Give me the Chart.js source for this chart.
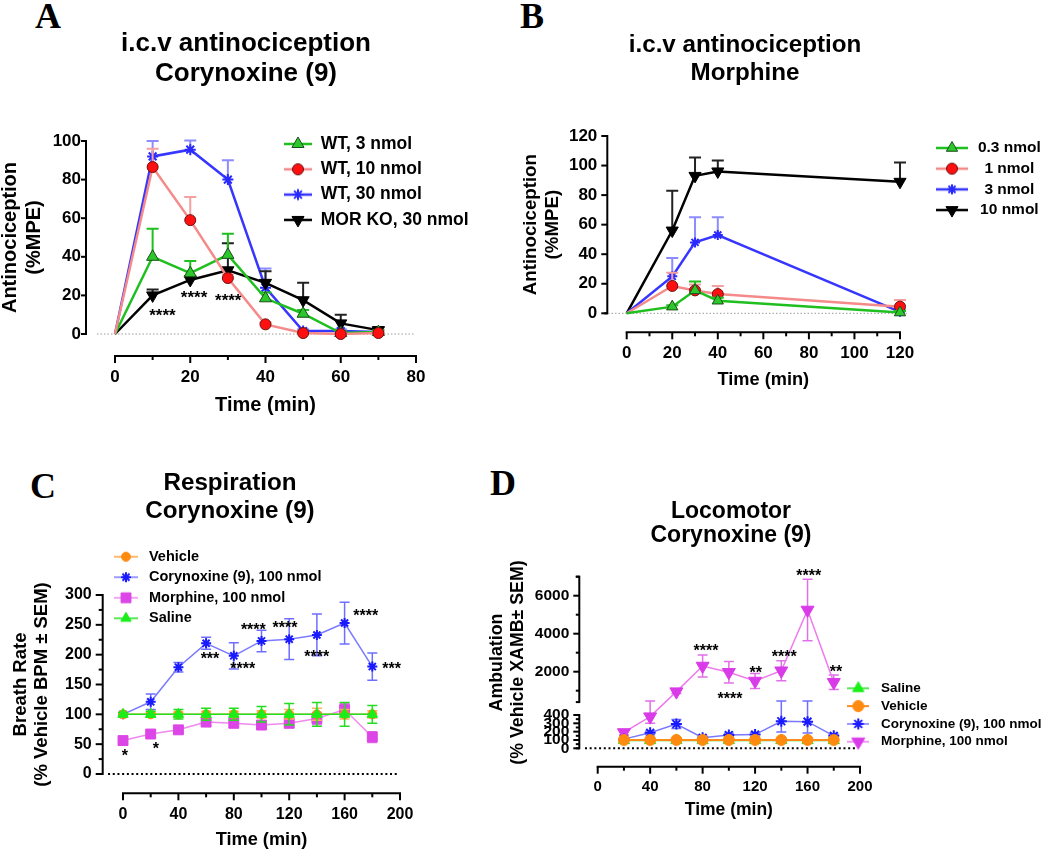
<!DOCTYPE html>
<html>
<head>
<meta charset="utf-8">
<script src="https://cdn.jsdelivr.net/npm/chart.js@4.4.1/dist/chart.umd.min.js"></script>
<style>
  body { margin: 0; background: #fff; }
  #page { position: relative; width: 1050px; height: 852px; overflow: hidden; background: #fff; }
  canvas { position: absolute; }
  .tag { position: absolute; font: bold 36px "Liberation Serif", "Times New Roman", serif; line-height: 36px; color: #000; }
</style>
</head>
<body>
<div id="page">
  <div class="tag" style="left:35px;top:-2px">A</div>
  <div class="tag" style="left:520px;top:-2px">B</div>
  <div class="tag" style="left:30px;top:468px">C</div>
  <div class="tag" style="left:490px;top:465px">D</div>
  <canvas id="chartA" width="520" height="420" style="left:0;top:0"></canvas>
  <canvas id="chartB" width="530" height="420" style="left:520px;top:0"></canvas>
  <canvas id="chartC" width="480" height="432" style="left:0;top:420px"></canvas>
  <canvas id="chartD" width="570" height="432" style="left:480px;top:420px"></canvas>
</div>
<script>
// ---------- A: i.c.v. antinociception, corynoxine (9) ----------
const timeA = [0, 10, 20, 30, 40, 50, 60, 70];
const wt3 = [0, 40, 31.5, 41, 18.5, 10.5, 0.5, 1];
const wt3Err = [0, 14.5, 6.3, 11, 3, 2, 1, 1];
const wt10 = [0, 86.5, 59, 29, 5, 0.5, 0, 0.5];
const wt10Err = [0, 9.5, 12, 2, 1, 0.5, 0.5, 0.5];
const wt30 = [0, 92, 95.5, 80, 24, 1.5, 1.5, 1];
const wt30Err = [0, 8, 4.7, 10, 10, 1, 1, 1];
const ko30 = [0, 20, 28, 33, 26.5, 17.5, 5.5, 2];
const ko30Err = [0, 3, 2, 14, 6, 9, 4.5, 1.5];
const xTicksA = [0, 10, 20, 30, 40, 50, 60, 70, 80];
const xLabelsA = [0, 20, 40, 60, 80];
const yTicksA = [0, 20, 40, 60, 80, 100];
const starsA = [
  {x: 12.6, y: 11.6, t: '****'},
  {x: 21, y: 21.1, t: '****'},
  {x: 30.1, y: 19.7, t: '****'}
];

// ---------- B: i.c.v. antinociception, morphine ----------
const timeB = [0, 20, 30, 40, 120];
const m03 = [0, 4.5, 15.5, 8.5, 0.5];
const m03Err = [0, 1, 6, 2, 1];
const m1 = [0, 18.5, 15.5, 13, 4.5];
const m1Err = [0, 9, 4, 5.5, 4.5];
const m3 = [0, 25, 48, 53, 1];
const m3Err = [0, 12.5, 17, 12, 1];
const m10 = [0, 56, 93, 96, 89];
const m10Err = [0, 27, 12.5, 7.5, 13];
const xTicksB = [0, 10, 20, 30, 40, 50, 60, 70, 80, 90, 100, 110, 120];
const xLabelsB = [0, 20, 40, 60, 80, 100, 120];
const yTicksB = [0, 20, 40, 60, 80, 100, 120];

// ---------- C: respiration ----------
const timeC = [0, 20, 40, 60, 80, 100, 120, 140, 160, 180];
const vehC = [100, 100, 100, 100, 100, 100, 100, 100, 100, 100];
const vehCErr = [2, 3, 4, 5, 5, 6, 8, 10, 8, 6];
const coryC = [100, 121, 179, 219, 198, 223, 226, 233, 253, 180];
const coryCErr = [3, 13, 8, 10, 22, 18, 34, 35, 35, 23];
const morC = [56, 67, 74, 87, 85, 82, 85, 93, 108, 62];
const morCErr = [6, 6, 5, 6, 7, 6, 7, 10, 10, 9];
const salC = [100, 100, 100, 100, 100, 100, 100, 100, 100, 100];
const salCErr = [3, 5, 8, 10, 10, 13, 18, 20, 20, 15];
const xTicksC = [0, 20, 40, 60, 80, 100, 120, 140, 160, 180, 200];
const xLabelsC = [0, 40, 80, 120, 160, 200];
const yTicksC = [0, 25, 50, 75, 100, 125, 150, 175, 200, 225, 250, 275, 300];
const yLabelsC = [0, 50, 100, 150, 200, 250, 300];
const starsC = [
  {x: 1.4, y: 37, t: '*'},
  {x: 23.8, y: 48.6, t: '*'},
  {x: 62.8, y: 200.6, t: '***'},
  {x: 86.4, y: 182.7, t: '****'},
  {x: 94.1, y: 248, t: '****'},
  {x: 117, y: 251.4, t: '****'},
  {x: 139.9, y: 203.3, t: '****'},
  {x: 175.2, y: 272, t: '****'},
  {x: 194, y: 182.7, t: '***'}
];

// ---------- D: locomotor ----------
const timeD = [20, 40, 60, 80, 100, 120, 140, 160, 180];
const salD = [95, 95, 95, 95, 95, 95, 95, 95, 95];
const salDErr = [5, 5, 5, 5, 5, 5, 5, 5, 5];
const vehD = [100, 100, 100, 100, 100, 100, 100, 100, 100];
const vehDErr = [4, 4, 4, 4, 4, 4, 4, 4, 4];
const coryD = [110, 187, 292, 127, 160, 165, 325, 320, 150];
const coryDErr = [10, 20, 55, 20, 20, 25, 130, 136, 20];
const morD = [190, 380, 950, 2300, 1970, 1510, 2050, 5250, 1440];
const morDErr = [30, 80, 100, 580, 560, 400, 530, 1615, 380];
const xTicksD = [0, 20, 40, 60, 80, 100, 120, 140, 160, 180, 200];
const xLabelsD = [0, 40, 80, 120, 160, 200];
const yTicksD = [0, 50, 100, 150, 200, 250, 300, 350, 400, 1000, 2000, 3000, 4000, 5000, 6000, 7000];
const yLabelsD = [0, 100, 200, 300, 400, 2000, 4000, 6000];
const starsD = [
  {x: 82.6, y: 3284, t: '****'},
  {x: 100.9, y: 789, t: '****'},
  {x: 120.5, y: 2126, t: '**'},
  {x: 142.3, y: 3000, t: '****'},
  {x: 160.9, y: 7232, t: '****'},
  {x: 181.7, y: 2179, t: '**'}
];

const FONT = "'Liberation Sans', Arial, sans-serif";
Chart.defaults.font.family = FONT;
Chart.defaults.font.weight = 'bold';
Chart.defaults.color = '#000';

// broken y axis for panel D: 0-400 at the bottom, 400-7000 above a gap
const BREAK_AT = 400;
const LOW_FRAC = 0.1941;
const GAP_FRAC = 0.0752;
class BrokenScale extends Chart.LinearScale {
  getPixelForValue(v) {
    if (v === null || v === undefined || isNaN(v)) return NaN;
    let d;
    if (v <= BREAK_AT) d = v / BREAK_AT * LOW_FRAC;
    else d = LOW_FRAC + GAP_FRAC + (v - BREAK_AT) / (this.max - BREAK_AT) * (1 - LOW_FRAC - GAP_FRAC);
    return this.getPixelForDecimal(d);
  }
}
BrokenScale.id = 'broken';
BrokenScale.defaults = Chart.LinearScale.defaults;
Chart.register(BrokenScale);

// per panel placement (canvas pixels)
const LAYOUT = {
  chartA: {
    titleX: 246,
    legend: {x: 298, y: 144, fs: 17.5, pad: 7.8, bw: 28, icon: 28},
    axes: {gapL: 29, gapB: 22, yMajor: 5, yMinor: 3, xMajor: 7, xMinor: 4,
      zero: {from: -4.8, to: 79.7, color: '#9a9a9a', w: 1, dash: [1.5, 2]}},
    stars: starsA, starFs: 17
  },
  chartB: {
    titleX: 225,
    legend: {x: 432, y: 148, fs: 15.5, pad: 5.17, bw: 32, icon: 32, right: 523},
    axes: {gapL: 19.4, gapB: 19, yMajor: 6, yMinor: 3, xMajor: 7, xMinor: 4,
      zero: {from: -8.2, to: 123, color: '#9a9a9a', w: 1, dash: [1.5, 2]}}
  },
  chartC: {
    titleX: 230,
    legend: {x: 126, y: 136.7, fs: 14.5, pad: 6.03, bw: 31.5, icon: 24},
    axes: {gapL: 20.3, gapB: 19.3, yMajor: 7, yMinor: 4, xMajor: 7, xMinor: 4,
      zero: {from: -10.8, to: 197.8, color: '#000', w: 2, dash: [2, 2.7]}},
    stars: starsC, starFs: 16
  },
  chartD: {
    titleX: 251,
    legend: {x: 378.3, y: 268.3, fs: 13.5, pad: 4.3, bw: 31.9, icon: 22},
    axes: {gapL: 18.4, gapB: 18.4, yMajor: 6, yMinor: 3.5, xMajor: 7, xMinor: 4,
      ySeg: [[0, 400], [400.001, 7000]],
      zero: {from: -9.7, to: 197.5, color: '#000', w: 2, dash: [2, 2.7]}},
    stars: starsD, starFs: 16
  }
};

function markerIcon(look, w) {
  const h = 20;
  const c = document.createElement('canvas');
  c.width = w; c.height = h;
  const g = c.getContext('2d');
  g.strokeStyle = look.line; g.lineWidth = look.lw;
  g.beginPath(); g.moveTo(0, h / 2); g.lineTo(w, h / 2); g.stroke();
  g.fillStyle = look.fill; g.strokeStyle = look.edge; g.lineWidth = look.ew;
  Chart.helpers.drawPoint(g, {pointStyle: look.shape, radius: look.r, rotation: look.rot || 0, borderWidth: look.ew}, w / 2, h / 2);
  return c;
}

function legendItems(chart) {
  const L = LAYOUT[chart.canvas.id].legend;
  return chart.data.datasets.map((ds, i) => ({
    text: ds.label, datasetIndex: i, hidden: false, fontColor: '#000',
    fillStyle: 'rgba(0,0,0,0)', strokeStyle: 'rgba(0,0,0,0)', lineWidth: 0,
    pointStyle: markerIcon(ds.look, L.icon)
  }));
}

// title centre + legend box position
Chart.register({
  id: 'gpPlace',
  beforeDraw(chart) {
    const L = LAYOUT[chart.canvas.id];
    const t = chart.titleBlock;
    if (t) {
      const w = t.right - t.left;
      t.left = L.titleX - w / 2; t.right = L.titleX + w / 2;
    }
    const lg = chart.legend, o = L.legend;
    if (lg) {
      lg.left = o.x - o.bw / 2 - o.pad;
      lg.top = o.y - o.fs / 2 - o.pad;
      lg.right = o.right || chart.width;
      lg.bottom = chart.height;
      lg.width = lg.right - lg.left;
      lg.height = lg.bottom - lg.top;
    }
  }
});

// offset axes drawn GraphPad style
Chart.register({
  id: 'gpAxes',
  beforeDatasetsDraw(chart) {
    const a = LAYOUT[chart.canvas.id].axes;
    const g = chart.ctx, ca = chart.chartArea, xs = chart.scales.x, ys = chart.scales.y;
    const ax = ca.left - a.gapL, ay = ca.bottom + a.gapB;
    const seg = (x1, y1, x2, y2) => { g.beginPath(); g.moveTo(x1, y1); g.lineTo(x2, y2); g.stroke(); };
    g.save();
    g.strokeStyle = '#000'; g.lineWidth = 2;
    (a.ySeg || [[ys.min, ys.max]]).forEach(s => {
      const p1 = ys.getPixelForValue(s[0]), p2 = ys.getPixelForValue(s[1]);
      seg(ax, p1 + 1, ax, p2 - 1);
      seg(ax - a.yMinor, p1, ax, p1);
      seg(ax - a.yMinor, p2, ax, p2);
    });
    ys.ticks.forEach(t => {
      const p = ys.getPixelForValue(t.value);
      seg(ax - (t.mj ? a.yMajor : a.yMinor), p, ax, p);
    });
    seg(xs.getPixelForValue(xs.min) - 1, ay, xs.getPixelForValue(xs.max) + 1, ay);
    xs.ticks.forEach(t => {
      const p = xs.getPixelForValue(t.value);
      seg(p, ay, p, ay + (t.mj ? a.xMajor : a.xMinor));
    });
    const z = a.zero, p0 = ys.getPixelForValue(0);
    g.strokeStyle = z.color; g.lineWidth = z.w; g.setLineDash(z.dash);
    seg(xs.getPixelForValue(z.from), p0, xs.getPixelForValue(z.to), p0);
    g.restore();
  }
});

// error bars, drawn just under their own dataset
Chart.register({
  id: 'gpErr',
  beforeDatasetDraw(chart, args) {
    const ds = chart.data.datasets[args.index];
    if (!ds.err) return;
    const g = chart.ctx, xs = chart.scales.x, ys = chart.scales.y;
    g.save();
    g.strokeStyle = ds.look.errColor; g.lineWidth = ds.look.errW;
    ds.data.forEach((p, i) => {
      const e = ds.err[i];
      if (!e) return;
      const x = xs.getPixelForValue(p.x);
      const top = ys.getPixelForValue(p.y + e);
      const bot = ys.getPixelForValue(ds.look.both ? p.y - e : p.y);
      const c = ds.look.cap;
      g.beginPath();
      g.moveTo(x, bot); g.lineTo(x, top);
      g.moveTo(x - c, top); g.lineTo(x + c, top);
      if (ds.look.both) { g.moveTo(x - c, bot); g.lineTo(x + c, bot); }
      g.stroke();
    });
    g.restore();
  }
});

// significance asterisks
Chart.register({
  id: 'gpStars',
  afterDatasetsDraw(chart) {
    const L = LAYOUT[chart.canvas.id];
    if (!L.stars) return;
    const g = chart.ctx, xs = chart.scales.x, ys = chart.scales.y;
    g.save();
    g.fillStyle = '#000';
    g.font = 'bold ' + L.starFs + 'px ' + FONT;
    g.textAlign = 'center';
    g.textBaseline = 'alphabetic';
    L.stars.forEach(s => g.fillText(s.t, xs.getPixelForValue(s.x), ys.getPixelForValue(s.y) + L.starFs * 0.575));
    g.restore();
  }
});

function series(label, xs, ys, err, look) {
  return {
    label: label,
    data: xs.map((x, i) => ({x: x, y: ys[i]})),
    err: err, look: look,
    borderColor: look.line, borderWidth: look.lw, tension: 0, clip: false, order: look.order,
    pointStyle: look.shape, pointRotation: look.rot || 0,
    pointRadius: look.skipFirst ? (c => c.dataIndex === 0 ? 0 : look.r) : look.r,
    pointBackgroundColor: look.fill, pointBorderColor: look.edge, pointBorderWidth: look.ew
  };
}

function axis(o) {
  return {
    type: o.type || 'linear', position: o.pos, min: o.min, max: o.max, bounds: 'data',
    grid: {display: false, drawTicks: false}, border: {display: false},
    afterBuildTicks: s => { s.ticks = o.ticks.map(v => ({value: v, mj: o.labels.indexOf(v) >= 0})); },
    afterFit: s => { if (o.pos === 'bottom') s.height = o.size; else s.width = o.size; },
    ticks: {autoSkip: false, maxRotation: 0, minRotation: 0, padding: o.pad, color: '#000',
      font: {size: o.fs, weight: 'bold', lineHeight: 1.2},
      callback: (v, i, t) => t[i].mj ? String(v) : ''},
    title: {display: true, text: o.title, color: '#000',
      font: {size: o.tfs, weight: 'bold', lineHeight: o.tlh || 1.2}, padding: o.tpad}
  };
}

function makeChart(id, t, datasets, xAxis, yAxis) {
  const L = LAYOUT[id].legend;
  return new Chart(document.getElementById(id), {
    type: 'line',
    data: {datasets: datasets},
    options: {
      responsive: false, animation: false, events: [],
      layout: {autoPadding: false, padding: {left: 0, top: 0, right: t.padR, bottom: 0}},
      plugins: {
        tooltip: {enabled: false},
        title: {display: true, text: t.text, color: '#000',
          font: {size: t.fs, weight: 'bold', lineHeight: t.lh}, padding: {top: t.top, bottom: t.bottom}},
        legend: {display: true, position: 'chartArea', align: 'start',
          labels: {usePointStyle: true, pointStyleWidth: L.bw, padding: L.pad, color: '#000',
            textAlign: L.right ? 'center' : 'left', font: {size: L.fs, weight: 'bold'},
            generateLabels: legendItems}}
      },
      scales: {x: xAxis, y: yAxis}
    }
  });
}

// ---------- looks ----------
const lkA = {
  g: {line: '#1fbf1f', lw: 2.5, shape: 'triangle', r: 7, fill: '#2bc72b', edge: '#1b4d1b', ew: 1, errColor: '#1fbf1f', errW: 2, cap: 6, skipFirst: true, order: 1},
  r: {line: '#f58a8a', lw: 2.5, shape: 'circle', r: 5.5, fill: '#ff1010', edge: '#6b1010', ew: 1, errColor: '#f5a0a0', errW: 2, cap: 6, skipFirst: true, order: 0},
  b: {line: '#3636ff', lw: 2.5, shape: 'star', r: 5.5, fill: '#2a2aff', edge: '#2a2aff', ew: 2, errColor: '#8c8cff', errW: 2, cap: 6, skipFirst: true, order: 3},
  k: {line: '#000', lw: 2.5, shape: 'triangle', rot: 180, r: 7, fill: '#000', edge: '#000', ew: 1, errColor: '#222', errW: 2, cap: 6, skipFirst: true, order: 2}
};
const lkC = {
  veh: {line: '#ffa040', lw: 1.5, shape: 'circle', r: 4.5, fill: '#ff8a10', edge: '#ff8a10', ew: 1, errColor: '#ffb060', errW: 1.5, cap: 5, both: true, order: 1},
  cor: {line: '#7b7bff', lw: 1.5, shape: 'star', r: 5, fill: '#1a1aff', edge: '#1a1aff', ew: 2, errColor: '#6f6fff', errW: 1.5, cap: 5, both: true, order: 3},
  mor: {line: '#ef88ef', lw: 1.5, shape: 'rect', r: 7, fill: '#dc45e6', edge: '#dc45e6', ew: 1, errColor: '#e070e8', errW: 1.5, cap: 5, both: true, order: 2},
  sal: {line: '#22e022', lw: 1.5, shape: 'triangle', r: 6, fill: '#1aee1a', edge: '#1aee1a', ew: 1, errColor: '#22dd22', errW: 1.5, cap: 5, both: true, order: 0}
};
const lkD = {
  sal: {line: '#22e022', lw: 1.5, shape: 'triangle', r: 6.5, fill: '#18f018', edge: '#18f018', ew: 1, errColor: '#22dd22', errW: 1.5, cap: 5, both: true, order: 4},
  veh: {line: '#ff8c1a', lw: 2, shape: 'circle', r: 5.5, fill: '#ff8a10', edge: '#ff8a10', ew: 1, errColor: '#ffb060', errW: 1.5, cap: 5, both: true, order: 1},
  cor: {line: '#7878ff', lw: 1.5, shape: 'star', r: 5.5, fill: '#1a1aff', edge: '#1a1aff', ew: 2, errColor: '#6f6fff', errW: 1.5, cap: 5, both: true, order: 2},
  mor: {line: '#ee7aee', lw: 1.5, shape: 'triangle', rot: 180, r: 7.5, fill: '#d93be8', edge: '#d93be8', ew: 1, errColor: '#e070e8', errW: 1.5, cap: 5, both: true, order: 3}
};

// ---------- charts ----------
makeChart('chartA',
  {text: ['i.c.v antinociception', 'Corynoxine (9)'], fs: 26, lh: 30 / 26, top: 29.3, bottom: 51.7, padR: 104},
  [
    series('WT, 3 nmol', timeA, wt3, wt3Err, lkA.g),
    series('WT, 10 nmol', timeA, wt10, wt10Err, lkA.r),
    series('WT, 30 nmol', timeA, wt30, wt30Err, lkA.b),
    series('MOR KO, 30 nmol', timeA, ko30, ko30Err, lkA.k)
  ],
  axis({pos: 'bottom', min: 0, max: 80, ticks: xTicksA, labels: xLabelsA, size: 86, pad: 33.2, fs: 17,
    title: 'Time (min)', tfs: 20, tpad: {top: 0, bottom: 2.6}}),
  axis({pos: 'left', min: 0, max: 100, ticks: yTicksA, labels: yTicksA, size: 115, pad: 34, fs: 17,
    title: ['Antinociception', '(%MPE)'], tfs: 20, tpad: {top: -1.5, bottom: 0}})
);

makeChart('chartB',
  {text: ['i.c.v antinociception', 'Morphine'], fs: 24.2, lh: 28.4 / 24.2, top: 30.7, bottom: 48.5, padR: 150},
  [
    series('0.3 nmol', timeB, m03, m03Err, Object.assign({}, lkA.g, {r: 6.5, order: 0})),
    series('1 nmol', timeB, m1, m1Err, Object.assign({}, lkA.r, {order: 1})),
    series('3 nmol', timeB, m3, m3Err, Object.assign({}, lkA.b, {r: 5, order: 2})),
    series('10 nmol', timeB, m10, m10Err, Object.assign({}, lkA.k, {order: 3}))
  ],
  axis({pos: 'bottom', min: 0, max: 120, ticks: xTicksB, labels: xLabelsB, size: 106.7, pad: 29.8, fs: 17,
    title: 'Time (min)', tfs: 18.2, tpad: {top: 0, bottom: 28.7}}),
  axis({pos: 'left', min: 0, max: 120, ticks: yTicksB, labels: yTicksB, size: 106.7, pad: 29.4, fs: 17,
    title: ['Antinociception', '(%MPE)'], tfs: 18.7, tpad: {top: -0.5, bottom: 0}})
);

makeChart('chartC',
  {text: ['Respiration', 'Corynoxine (9)'], fs: 24.2, lh: 28.3 / 24.2, top: 49.25, bottom: 69.15, padR: 80},
  [
    series('Vehicle', timeC, vehC, vehCErr, lkC.veh),
    series('Corynoxine (9), 100 nmol', timeC, coryC, coryCErr, lkC.cor),
    series('Morphine, 100 nmol', timeC, morC, morCErr, lkC.mor),
    series('Saline', timeC, salC, salCErr, lkC.sal)
  ],
  axis({pos: 'bottom', min: 0, max: 200, ticks: xTicksC, labels: xLabelsC, size: 78, pad: 30.7, fs: 16,
    title: 'Time (min)', tfs: 18.2, tpad: {top: 0, bottom: 1.4}}),
  axis({pos: 'left', min: 0, max: 300, ticks: yTicksC, labels: yLabelsC, size: 123, pad: 31.3, fs: 16,
    title: ['Breath Rate', '(% Vehicle BPM ± SEM)'], tfs: 18.5, tlh: 1.15, tpad: {top: 9.9, bottom: 0}})
);

makeChart('chartD',
  {text: ['Locomotor', 'Corynoxine (9)'], fs: 23, lh: 23.3 / 23, top: 80.35, bottom: 29.75, padR: 190},
  [
    series('Saline', timeD, salD, salDErr, lkD.sal),
    series('Vehicle', timeD, vehD, vehDErr, lkD.veh),
    series('Corynoxine (9), 100 nmol', timeD, coryD, coryDErr, lkD.cor),
    series('Morphine, 100 nmol', timeD, morD, morDErr, lkD.mor)
  ],
  axis({pos: 'bottom', min: 0, max: 200, ticks: xTicksD, labels: xLabelsD, size: 103.7, pad: 29.4, fs: 15,
    title: 'Time (min)', tfs: 17.5, tpad: {top: 0, bottom: 30.9}}),
  axis({type: 'broken', pos: 'left', min: 0, max: 7000, ticks: yTicksD, labels: yLabelsD, size: 117.7, pad: 28.4, fs: 15.5,
    title: ['Ambulation', '(% Vehicle XAMB± SEM)'], tfs: 17.8, tpad: {top: 6.3, bottom: 0}})
);
</script>
</body>
</html>
